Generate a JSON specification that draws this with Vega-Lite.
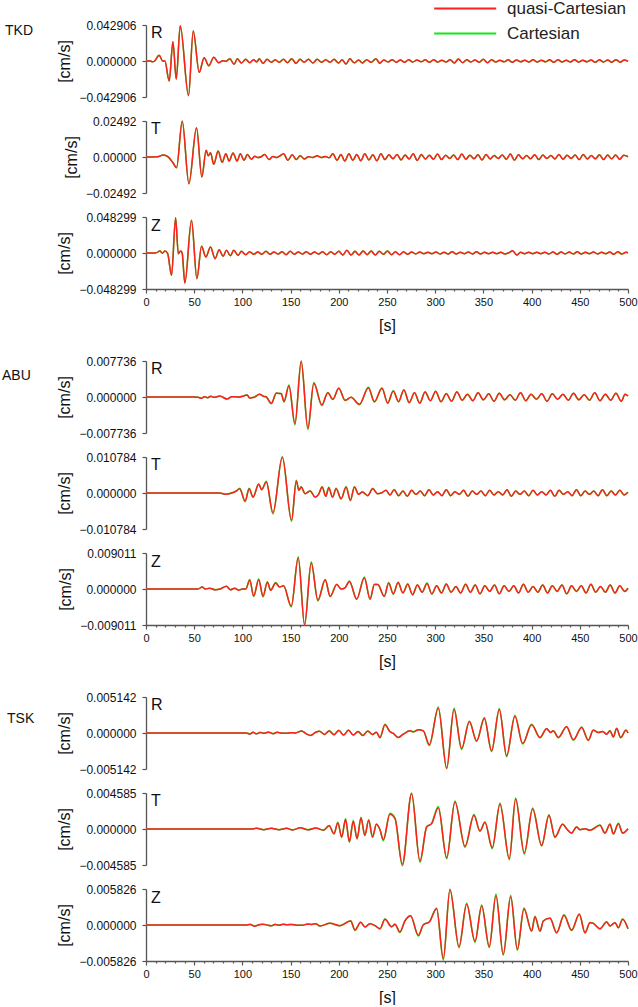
{
"$schema":"https://vega.github.io/schema/vega-lite/v6.json",
"background":"white",
"padding":{"left":2,"top":-3,"right":0,"bottom":0},
"spacing":22,
"config":{
 "view":{"stroke":null},
 "font":"Liberation Sans",
 "axis":{"domainColor":"#555","domainWidth":1.3,"tickColor":"#555","tickWidth":1.2,"labelColor":"#111","titleColor":"#111","labelFont":"Liberation Sans","titleFont":"Liberation Sans","titleFontWeight":"normal","grid":false},
 "axisY":{"tickSize":4,"labelPadding":6,"labelFontSize":12,"titleFontSize":16,"titlePadding":6,"labelOverlap":false},
 "axisX":{"labelFontSize":11,"labelPadding":3,"titleFontSize":16,"titlePadding":10,"labelOverlap":false,"labelFlush":false},
 "legend":{"orient":"none","legendX":287,"legendY":-28,"symbolType":"M-1,0H5","symbolSize":428,"symbolStrokeWidth":2.2,"labelFontSize":17,"labelFont":"Liberation Sans","labelColor":"#222","labelOffset":51,"rowPadding":5,"padding":0},
 "text":{"font":"Liberation Sans","color":"#111"}
},
"datasets":{
"tkdR":[{"t":0,"q":0},{"t":5,"q":0},{"t":6.5,"q":-0.001},{"t":9,"q":0},{"t":13.6,"q":0.0068},{"t":17.5,"q":-0.0004},{"t":19.5,"q":0.0004},{"t":24.1,"q":-0.0238},{"t":27.9,"q":0.023},{"t":31.4,"q":-0.0215},{"t":35.5,"q":0.0421},{"t":44.1,"q":-0.0413},{"t":49,"q":0.0357},{"t":55.2,"q":-0.0135},{"t":60.3,"q":0.004},{"t":65.2,"q":-0.0056},{"t":70.3,"q":0.0044},{"t":75.2,"q":-0.002},{"t":79.5,"q":0.0002},{"t":83,"q":-0.0004},{"t":86.9,"q":0.0028},{"t":91.4,"q":-0.004},{"t":94.8,"q":0.0028},{"t":99,"q":-0.0024},{"t":103.4,"q":0.002},{"t":107.6,"q":-0.002},{"t":111.5,"q":0.0014},{"t":115,"q":-0.001},{"t":117.5,"q":0.0026},{"t":121.4,"q":-0.0028},{"t":125.6,"q":0.002},{"t":130,"q":-0.0016},{"t":134,"q":0.0016},{"t":138.3,"q":-0.0016},{"t":142.6,"q":0.002},{"t":146.8,"q":-0.002},{"t":151.2,"q":0.0028},{"t":155.6,"q":-0.0028},{"t":159.8,"q":0.002},{"t":164,"q":-0.0016},{"t":168.6,"q":0.002},{"t":173,"q":-0.0024},{"t":177.6,"q":0.002},{"t":182,"q":-0.0016},{"t":186.4,"q":0.0016},{"t":191,"q":-0.0016},{"t":195.2,"q":0.002},{"t":199.7,"q":-0.0024},{"t":203.5,"q":0.0016},{"t":207.5,"q":-0.0036},{"t":211.5,"q":0.0026},{"t":216,"q":-0.0022},{"t":220.5,"q":0.0012},{"t":224.6,"q":-0.0024},{"t":229,"q":0.0016},{"t":233.5,"q":-0.0016},{"t":238.5,"q":0.0026},{"t":242.5,"q":-0.0026},{"t":246.8,"q":0.0012},{"t":251,"q":-0.0012},{"t":255.3,"q":0.0014},{"t":259.6,"q":-0.0014},{"t":263.9,"q":0.0012},{"t":268.2,"q":-0.0016},{"t":272.5,"q":0.0016},{"t":276.8,"q":-0.0012},{"t":281.1,"q":0.0012},{"t":285.4,"q":-0.001},{"t":289.7,"q":0.0014},{"t":294,"q":-0.0016},{"t":298.3,"q":0.0016},{"t":302.6,"q":-0.0014},{"t":306.9,"q":0.001},{"t":311.2,"q":-0.0012},{"t":315.5,"q":0.0016},{"t":319.8,"q":-0.0024},{"t":324.1,"q":0.0024},{"t":328.4,"q":-0.002},{"t":332.7,"q":0.0016},{"t":337,"q":-0.0012},{"t":341.3,"q":0.0012},{"t":345.6,"q":-0.0016},{"t":349.9,"q":0.002},{"t":354.2,"q":-0.002},{"t":358.5,"q":0.0016},{"t":362.8,"q":-0.0012},{"t":367.1,"q":0.001},{"t":371.4,"q":-0.001},{"t":375.7,"q":0.0014},{"t":380,"q":-0.0016},{"t":384.3,"q":0.0012},{"t":388.6,"q":-0.001},{"t":392.9,"q":0.001},{"t":397.2,"q":-0.0012},{"t":401.5,"q":0.0014},{"t":405.8,"q":-0.0012},{"t":410.1,"q":0.001},{"t":414.4,"q":-0.001},{"t":418.7,"q":0.0014},{"t":423,"q":-0.0016},{"t":427.3,"q":0.0016},{"t":431.6,"q":-0.0012},{"t":435.9,"q":0.001},{"t":440.2,"q":-0.0012},{"t":444.5,"q":0.0016},{"t":448.8,"q":-0.0014},{"t":453.1,"q":0.001},{"t":457.4,"q":-0.001},{"t":461.7,"q":0.0012},{"t":466,"q":-0.0016},{"t":470.3,"q":0.0016},{"t":474.6,"q":-0.0012},{"t":478.9,"q":0.0012},{"t":483.2,"q":-0.0014},{"t":487.5,"q":0.0016},{"t":491.8,"q":-0.0014},{"t":496.1,"q":0.0012},{"t":500,"q":-0.0004}],
"tkdT":[{"t":0,"q":0},{"t":12,"q":0.0002},{"t":17.9,"q":0.0014},{"t":23,"q":0.0001},{"t":28,"q":-0.004},{"t":31.7,"q":-0.0074},{"t":37.6,"q":0.0248},{"t":44.5,"q":-0.0185},{"t":52.4,"q":0.0203},{"t":57.9,"q":-0.0138},{"t":62.4,"q":0.0046},{"t":64.6,"q":0.0008},{"t":66.9,"q":0.003},{"t":70.3,"q":-0.0051},{"t":74.8,"q":0.0042},{"t":79,"q":-0.0037},{"t":82.8,"q":0.0023},{"t":86.2,"q":-0.0028},{"t":90.3,"q":0.0028},{"t":94.5,"q":-0.0028},{"t":97.9,"q":0.0023},{"t":101.7,"q":-0.0023},{"t":105.2,"q":0.0018},{"t":109.3,"q":-0.0016},{"t":112.7,"q":0.0005},{"t":116,"q":-0.0004},{"t":119.5,"q":0.0002},{"t":123.1,"q":0.0018},{"t":127.6,"q":-0.0018},{"t":131.5,"q":0.0004},{"t":135.5,"q":-0.0004},{"t":138.5,"q":0.0006},{"t":142.7,"q":0.0023},{"t":147.2,"q":-0.0023},{"t":151.7,"q":0.0016},{"t":155.8,"q":-0.0018},{"t":160,"q":0.0009},{"t":164.3,"q":-0.0014},{"t":168.5,"q":0.0002},{"t":173,"q":-0.0004},{"t":177.5,"q":0.0009},{"t":181.8,"q":-0.0004},{"t":186,"q":0.0004},{"t":190,"q":-0.0006},{"t":193.8,"q":0.0023},{"t":198.2,"q":-0.0023},{"t":202.2,"q":0.0018},{"t":206.3,"q":-0.0028},{"t":210.5,"q":0.0023},{"t":214.6,"q":-0.0023},{"t":218.6,"q":0.0018},{"t":222.8,"q":-0.0026},{"t":227,"q":0.0023},{"t":231.2,"q":-0.002},{"t":235.3,"q":0.0016},{"t":239.5,"q":-0.0026},{"t":243.7,"q":0.0023},{"t":247.8,"q":-0.0018},{"t":252,"q":0.0016},{"t":256.2,"q":-0.0012},{"t":260.4,"q":0.0018},{"t":264.6,"q":-0.002},{"t":268.8,"q":0.0014},{"t":273,"q":-0.0014},{"t":277.2,"q":0.0022},{"t":281.4,"q":-0.0024},{"t":285.6,"q":0.0018},{"t":289.8,"q":-0.0014},{"t":294,"q":0.0012},{"t":298.2,"q":-0.0016},{"t":302.4,"q":0.002},{"t":306.6,"q":-0.0018},{"t":310.8,"q":0.0012},{"t":315,"q":-0.001},{"t":319.2,"q":0.0014},{"t":323.4,"q":-0.0018},{"t":327.6,"q":0.002},{"t":331.8,"q":-0.0016},{"t":336,"q":0.0012},{"t":340.2,"q":-0.0012},{"t":344.4,"q":0.0016},{"t":348.6,"q":-0.002},{"t":352.8,"q":0.0018},{"t":357,"q":-0.0014},{"t":361.2,"q":0.001},{"t":365.4,"q":-0.001},{"t":369.6,"q":0.0014},{"t":373.8,"q":-0.0016},{"t":378,"q":0.002},{"t":382.2,"q":-0.0022},{"t":386.4,"q":0.0016},{"t":390.6,"q":-0.0012},{"t":394.8,"q":0.001},{"t":399,"q":-0.0012},{"t":403.2,"q":0.0016},{"t":407.4,"q":-0.0018},{"t":411.6,"q":0.0014},{"t":415.8,"q":-0.001},{"t":420,"q":0.001},{"t":424.2,"q":-0.0014},{"t":428.4,"q":0.0018},{"t":432.6,"q":-0.0016},{"t":436.8,"q":0.0012},{"t":441,"q":-0.001},{"t":445.2,"q":0.0014},{"t":449.4,"q":-0.0018},{"t":453.6,"q":0.0018},{"t":457.8,"q":-0.0014},{"t":462,"q":0.001},{"t":466.2,"q":-0.0012},{"t":470.4,"q":0.0016},{"t":474.6,"q":-0.0018},{"t":478.8,"q":0.0014},{"t":483,"q":-0.0012},{"t":487.2,"q":0.0014},{"t":491.4,"q":-0.0016},{"t":495.6,"q":0.0012},{"t":500,"q":0.0002}],
"tkdZ":[{"t":0,"q":0},{"t":10,"q":0},{"t":14.5,"q":0.0027},{"t":17,"q":-0.0004},{"t":19.7,"q":0.0027},{"t":22.5,"q":-0.0009},{"t":26.5,"q":-0.03},{"t":30.7,"q":0.0474},{"t":33.5,"q":-0.0009},{"t":35.9,"q":0.0027},{"t":37.5,"q":0},{"t":40.3,"q":-0.0402},{"t":47.2,"q":0.0438},{"t":52.8,"q":-0.0344},{"t":57.6,"q":0.0089},{"t":62.1,"q":-0.0054},{"t":66.9,"q":0.008},{"t":71.7,"q":-0.0076},{"t":75.9,"q":0.0045},{"t":80,"q":-0.0045},{"t":83.4,"q":0.0036},{"t":87.6,"q":-0.0036},{"t":91,"q":0.0036},{"t":95.5,"q":-0.003},{"t":99,"q":0.0022},{"t":103.4,"q":-0.0022},{"t":107.5,"q":0.0018},{"t":111.8,"q":-0.0018},{"t":116,"q":0.0014},{"t":120.2,"q":-0.0018},{"t":124.4,"q":0.0022},{"t":128.6,"q":-0.0018},{"t":132.8,"q":0.0014},{"t":137,"q":-0.0014},{"t":141.2,"q":0.0018},{"t":145.4,"q":-0.0022},{"t":149.6,"q":0.0022},{"t":153.8,"q":-0.0018},{"t":158,"q":0.0014},{"t":162.2,"q":-0.0014},{"t":166.4,"q":0.0018},{"t":170.6,"q":-0.0018},{"t":174.8,"q":0.0014},{"t":179,"q":-0.0014},{"t":183.2,"q":0.0018},{"t":187.4,"q":-0.0022},{"t":191.6,"q":0.0018},{"t":195.8,"q":-0.0018},{"t":200,"q":0.0022},{"t":204.2,"q":-0.0027},{"t":208.4,"q":0.0036},{"t":212.6,"q":-0.0027},{"t":216.8,"q":0.0022},{"t":221,"q":-0.0027},{"t":225.2,"q":0.0027},{"t":229.4,"q":-0.0022},{"t":233.6,"q":0.0027},{"t":237.8,"q":-0.0027},{"t":242,"q":0.0022},{"t":246.2,"q":-0.0018},{"t":250.4,"q":0.0027},{"t":254.6,"q":-0.0022},{"t":258.8,"q":0.0018},{"t":263,"q":-0.0022},{"t":267.2,"q":0.0018},{"t":271.4,"q":-0.0018},{"t":275.6,"q":0.0013},{"t":279.8,"q":-0.0013},{"t":284,"q":0.0013},{"t":288.2,"q":-0.0009},{"t":292.4,"q":0.0009},{"t":296.6,"q":-0.0009},{"t":300.8,"q":0.0013},{"t":305,"q":-0.0013},{"t":309.2,"q":0.0009},{"t":313.4,"q":-0.0013},{"t":317.6,"q":0.0018},{"t":321.8,"q":-0.0013},{"t":326,"q":0.0009},{"t":330.2,"q":-0.0009},{"t":334.4,"q":0.0013},{"t":338.6,"q":-0.0013},{"t":342.8,"q":0.0018},{"t":347,"q":-0.0013},{"t":351.2,"q":0.0009},{"t":355.4,"q":-0.0009},{"t":359.6,"q":0.0009},{"t":363.8,"q":-0.0009},{"t":368,"q":0.0009},{"t":372.2,"q":-0.0013},{"t":376.4,"q":0.0004},{"t":380.4,"q":0.0031},{"t":384.5,"q":-0.0027},{"t":388.6,"q":0.0009},{"t":392.8,"q":-0.0009},{"t":397,"q":0.0009},{"t":401.2,"q":-0.0009},{"t":405.4,"q":0.0009},{"t":409.6,"q":-0.0009},{"t":413.8,"q":0.0009},{"t":418,"q":-0.0013},{"t":422.2,"q":0.0013},{"t":426.4,"q":-0.0018},{"t":430.6,"q":0.0013},{"t":434.8,"q":-0.0013},{"t":439,"q":0.0013},{"t":443.2,"q":-0.0013},{"t":447.4,"q":0.0018},{"t":451.6,"q":-0.0013},{"t":455.8,"q":0.0009},{"t":460,"q":-0.0009},{"t":464.2,"q":0.0013},{"t":468.4,"q":-0.0013},{"t":472.6,"q":0.0009},{"t":476.8,"q":-0.0009},{"t":481,"q":0.0013},{"t":485.2,"q":-0.0018},{"t":489.4,"q":0.0018},{"t":493.6,"q":-0.0013},{"t":497.8,"q":0.0009},{"t":500,"q":0.0004}],
"abuR":[{"t":0,"q":0,"k":0},{"t":50,"q":0,"k":0},{"t":54,"q":-0.00005,"k":-0.00005},{"t":57.6,"q":-0.00029,"k":-0.00029},{"t":60.5,"q":0.00007,"k":0.00007},{"t":63.9,"q":-0.00014,"k":-0.00014},{"t":67.3,"q":0.00014,"k":0.00014},{"t":70.7,"q":-0.00007,"k":-0.00007},{"t":76.5,"q":0.00021,"k":0.00021},{"t":84.1,"q":-0.00043,"k":-0.00043},{"t":89,"q":0.00007,"k":0.00007},{"t":96,"q":0,"k":0},{"t":100,"q":0.00014,"k":0.00014},{"t":104.8,"q":0.00043,"k":0.00046},{"t":107.6,"q":-0.00021,"k":-0.00023},{"t":112,"q":-0.00007,"k":-0.00007},{"t":117.9,"q":0.00057,"k":0.0006},{"t":122,"q":0.00014,"k":0.00014},{"t":124.8,"q":0,"k":0},{"t":130,"q":-0.00136,"k":-0.00146},{"t":135.2,"q":0.00079,"k":0.00084},{"t":140.3,"q":0.00072,"k":0.00076},{"t":143.1,"q":-0.001,"k":-0.00106},{"t":148.3,"q":0.00243,"k":0.00256},{"t":154.5,"q":-0.00573,"k":-0.006},{"t":161,"q":0.0077,"k":0.00773},{"t":167.9,"q":-0.00673,"k":-0.007},{"t":174.1,"q":0.00293,"k":0.0031},{"t":182.4,"q":-0.00172,"k":-0.00182},{"t":188.6,"q":0.00093,"k":0.00098},{"t":193.8,"q":-0.0005,"k":-0.00052},{"t":200,"q":0.00186,"k":0.00196},{"t":206.5,"q":-0.00072,"k":-0.00076},{"t":212.7,"q":-0.00007,"k":-0.00007},{"t":221.4,"q":-0.00158,"k":-0.00166},{"t":230.7,"q":0.002,"k":0.0021},{"t":236.9,"q":-0.001,"k":-0.00105},{"t":244.8,"q":0.00186,"k":0.00196},{"t":250.7,"q":-0.00129,"k":-0.00136},{"t":256.5,"q":0.0013,"k":0.00136},{"t":262,"q":-0.001,"k":-0.00104},{"t":267.5,"q":0.0015,"k":0.00157},{"t":273,"q":-0.0012,"k":-0.00125},{"t":278.5,"q":0.0009,"k":0.00094},{"t":284,"q":-0.0013,"k":-0.00136},{"t":289.5,"q":0.0011,"k":0.00115},{"t":295,"q":-0.0008,"k":-0.00083},{"t":300.5,"q":0.0012,"k":0.00125},{"t":306,"q":-0.001,"k":-0.00104},{"t":311.5,"q":0.0007,"k":0.00073},{"t":317,"q":-0.0009,"k":-0.00094},{"t":322.5,"q":0.0011,"k":0.00115},{"t":328,"q":-0.0007,"k":-0.00073},{"t":333.5,"q":0.0006,"k":0.0006},{"t":339,"q":-0.0008,"k":-0.0008},{"t":344.5,"q":0.0009,"k":0.0009},{"t":350,"q":-0.0006,"k":-0.0006},{"t":355.5,"q":0.0007,"k":0.0007},{"t":361,"q":-0.0009,"k":-0.0009},{"t":366.5,"q":0.0008,"k":0.0008},{"t":372,"q":-0.0006,"k":-0.0006},{"t":377.5,"q":0.0005,"k":0.0005},{"t":383,"q":-0.0007,"k":-0.0007},{"t":388.5,"q":0.0009,"k":0.0009},{"t":394,"q":-0.0008,"k":-0.0008},{"t":399.5,"q":0.0006,"k":0.0006},{"t":405,"q":-0.0005,"k":-0.0005},{"t":410.5,"q":0.0007,"k":0.0007},{"t":416,"q":-0.0009,"k":-0.0009},{"t":421.5,"q":0.0007,"k":0.0007},{"t":427,"q":-0.0005,"k":-0.0005},{"t":432.5,"q":0.0006,"k":0.0006},{"t":438,"q":-0.0007,"k":-0.0007},{"t":443.5,"q":0.0008,"k":0.0008},{"t":449,"q":-0.0006,"k":-0.0006},{"t":454.5,"q":0.0005,"k":0.0005},{"t":460,"q":-0.0007,"k":-0.0007},{"t":465.5,"q":0.0009,"k":0.0009},{"t":471,"q":-0.0008,"k":-0.0008},{"t":476.5,"q":0.0006,"k":0.0006},{"t":482,"q":-0.0007,"k":-0.0007},{"t":487.5,"q":0.0008,"k":0.0008},{"t":493,"q":-0.0009,"k":-0.0009},{"t":497,"q":0.0006,"k":0.0006},{"t":500,"q":0.0002,"k":0.0002}],
"abuT":[{"t":0,"q":0,"k":0},{"t":76,"q":0,"k":0},{"t":80,"q":-0.0002,"k":-0.0002},{"t":82.8,"q":-0.0004,"k":-0.0004},{"t":88,"q":-0.0001,"k":-0.0001},{"t":93.8,"q":0.0006,"k":0.0006},{"t":97.2,"q":0.0013,"k":0.0014},{"t":102.8,"q":-0.0024,"k":-0.0026},{"t":107,"q":0.0013,"k":0.0014},{"t":111,"q":-0.0012,"k":-0.0013},{"t":116.9,"q":0.0026,"k":0.0028},{"t":120,"q":0.001,"k":0.001},{"t":124.8,"q":0.0033,"k":0.0035},{"t":131.7,"q":-0.0059,"k":-0.0063},{"t":141.4,"q":0.01075,"k":0.01078},{"t":151,"q":-0.0082,"k":-0.0085},{"t":155.9,"q":0.0036,"k":0.0038},{"t":158.6,"q":0.0008,"k":0.0008},{"t":161,"q":0.0018,"k":0.0019},{"t":165,"q":-0.0002,"k":-0.0002},{"t":170.3,"q":0.0006,"k":0.0006},{"t":175.5,"q":-0.0012,"k":-0.0013},{"t":179,"q":-0.0004,"k":-0.0004},{"t":182.7,"q":0.0018,"k":0.0019},{"t":186.5,"q":-0.001,"k":-0.001},{"t":189.6,"q":0.0016,"k":0.0017},{"t":193.5,"q":-0.0012,"k":-0.0013},{"t":197.2,"q":0.0013,"k":0.0014},{"t":202.4,"q":-0.0017,"k":-0.0018},{"t":207.6,"q":0.0018,"k":0.0019},{"t":212,"q":-0.0022,"k":-0.0023},{"t":216.2,"q":0.0018,"k":0.0019},{"t":220.5,"q":-0.0004,"k":-0.0004},{"t":224.5,"q":0.0003,"k":0.0003},{"t":230,"q":-0.0008,"k":-0.0008},{"t":235.2,"q":0.0013,"k":0.0014},{"t":240,"q":-0.0002,"k":-0.0002},{"t":244,"q":0,"k":0},{"t":249,"q":0.0008,"k":0.0008},{"t":253,"q":-0.0006,"k":-0.0006},{"t":257.5,"q":0.001,"k":0.001},{"t":262,"q":-0.0008,"k":-0.0008},{"t":266.5,"q":0.0006,"k":0.0006},{"t":271,"q":-0.001,"k":-0.001},{"t":275.5,"q":0.0008,"k":0.0008},{"t":280,"q":-0.0004,"k":-0.0004},{"t":284.5,"q":0.0006,"k":0.0006},{"t":289,"q":-0.0008,"k":-0.0008},{"t":293.5,"q":0.001,"k":0.001},{"t":298,"q":-0.0006,"k":-0.0006},{"t":302.5,"q":0.0004,"k":0.0004},{"t":307,"q":-0.0008,"k":-0.0008},{"t":311.5,"q":0.001,"k":0.001},{"t":316,"q":-0.0008,"k":-0.0008},{"t":320.5,"q":0.0004,"k":0.0004},{"t":325,"q":-0.0004,"k":-0.0004},{"t":329.5,"q":0.0008,"k":0.0008},{"t":334,"q":-0.001,"k":-0.001},{"t":338.5,"q":0.0006,"k":0.0006},{"t":343,"q":-0.0004,"k":-0.0004},{"t":347.5,"q":0.0006,"k":0.0006},{"t":352,"q":-0.0008,"k":-0.0008},{"t":356.5,"q":0.0008,"k":0.0008},{"t":361,"q":-0.0006,"k":-0.0006},{"t":365.5,"q":0.0004,"k":0.0004},{"t":370,"q":-0.0006,"k":-0.0006},{"t":374.5,"q":0.001,"k":0.001},{"t":379,"q":-0.001,"k":-0.001},{"t":383.5,"q":0.0006,"k":0.0006},{"t":388,"q":-0.0004,"k":-0.0004},{"t":392.5,"q":0.0006,"k":0.0006},{"t":397,"q":-0.0008,"k":-0.0008},{"t":401.5,"q":0.0008,"k":0.0008},{"t":406,"q":-0.0006,"k":-0.0006},{"t":410.5,"q":0.0004,"k":0.0004},{"t":415,"q":-0.0006,"k":-0.0006},{"t":419.5,"q":0.0008,"k":0.0008},{"t":424,"q":-0.001,"k":-0.001},{"t":428.5,"q":0.0008,"k":0.0008},{"t":433,"q":-0.0004,"k":-0.0004},{"t":437.5,"q":0.0004,"k":0.0004},{"t":442,"q":-0.0008,"k":-0.0008},{"t":446.5,"q":0.001,"k":0.001},{"t":451,"q":-0.0008,"k":-0.0008},{"t":455.5,"q":0.0006,"k":0.0006},{"t":460,"q":-0.0004,"k":-0.0004},{"t":464.5,"q":0.0006,"k":0.0006},{"t":469,"q":-0.0008,"k":-0.0008},{"t":473.5,"q":0.001,"k":0.001},{"t":478,"q":-0.0008,"k":-0.0008},{"t":482.5,"q":0.0006,"k":0.0006},{"t":487,"q":-0.0006,"k":-0.0006},{"t":491.5,"q":0.0008,"k":0.0008},{"t":496,"q":-0.0006,"k":-0.0006},{"t":500,"q":0.0002,"k":0.0002}],
"abuZ":[{"t":0,"q":0,"k":0},{"t":54,"q":0,"k":0},{"t":58.3,"q":0.0005,"k":0.0005},{"t":61.5,"q":0,"k":0},{"t":66,"q":0.0002,"k":0.0002},{"t":72,"q":-0.0002,"k":-0.0002},{"t":77,"q":0,"k":0},{"t":83.4,"q":0.0007,"k":0.0007},{"t":87.5,"q":-0.0002,"k":-0.0002},{"t":92,"q":0.0002,"k":0.0002},{"t":96,"q":-0.0003,"k":-0.0003},{"t":100,"q":0,"k":0},{"t":103.5,"q":0,"k":0},{"t":107.6,"q":0.0022,"k":0.0024},{"t":111.7,"q":-0.0017,"k":-0.0019},{"t":116.9,"q":0.0023,"k":0.0025},{"t":121.4,"q":-0.0018,"k":-0.002},{"t":125.9,"q":0.0017,"k":0.0018},{"t":129.3,"q":-0.0003,"k":-0.0003},{"t":134.5,"q":0.0015,"k":0.0016},{"t":138.6,"q":0.0005,"k":0.0005},{"t":142.7,"q":0.0008,"k":0.0008},{"t":150.7,"q":-0.0043,"k":-0.0045},{"t":157.9,"q":0.0078,"k":0.0081},{"t":164.5,"q":-0.00895,"k":-0.009},{"t":171.4,"q":0.0065,"k":0.0068},{"t":178.3,"q":-0.0028,"k":-0.003},{"t":185.9,"q":0.0023,"k":0.0024},{"t":191,"q":-0.0018,"k":-0.0019},{"t":197.9,"q":0.0011,"k":0.0012},{"t":202.5,"q":0,"k":0},{"t":206.5,"q":0.0003,"k":0.0003},{"t":211,"q":0.0019,"k":0.002},{"t":218.6,"q":-0.0025,"k":-0.0026},{"t":226.5,"q":0.0028,"k":0.003},{"t":232.4,"q":-0.0025,"k":-0.0026},{"t":236.9,"q":0.0011,"k":0.0012},{"t":240.5,"q":0.0011,"k":0.0011},{"t":247.2,"q":-0.0018,"k":-0.0019},{"t":251.7,"q":0.0015,"k":0.0016},{"t":256.5,"q":-0.0012,"k":-0.0013},{"t":261.5,"q":0.0016,"k":0.0017},{"t":266.5,"q":-0.001,"k":-0.001},{"t":271.5,"q":0.0012,"k":0.0013},{"t":276.5,"q":-0.0014,"k":-0.0015},{"t":281.5,"q":0.001,"k":0.001},{"t":286.5,"q":-0.0008,"k":-0.0008},{"t":291.5,"q":0.0014,"k":0.0015},{"t":296.5,"q":-0.0012,"k":-0.0013},{"t":301.5,"q":0.0008,"k":0.0008},{"t":306.5,"q":-0.001,"k":-0.001},{"t":311.5,"q":0.0012,"k":0.0013},{"t":316.5,"q":-0.0008,"k":-0.0008},{"t":321.5,"q":0.0006,"k":0.0006},{"t":326.5,"q":-0.001,"k":-0.001},{"t":331.5,"q":0.0012,"k":0.0012},{"t":336.5,"q":-0.0008,"k":-0.0008},{"t":341.5,"q":0.001,"k":0.001},{"t":346.5,"q":-0.0012,"k":-0.0012},{"t":351.5,"q":0.0008,"k":0.0008},{"t":356.5,"q":-0.0006,"k":-0.0006},{"t":361.5,"q":0.001,"k":0.001},{"t":366.5,"q":-0.0012,"k":-0.0012},{"t":371.5,"q":0.0008,"k":0.0008},{"t":376.5,"q":-0.0006,"k":-0.0006},{"t":381.5,"q":0.0008,"k":0.0008},{"t":386.5,"q":-0.001,"k":-0.001},{"t":391.5,"q":0.0012,"k":0.0012},{"t":396.5,"q":-0.0008,"k":-0.0008},{"t":401.5,"q":0.0006,"k":0.0006},{"t":406.5,"q":-0.0008,"k":-0.0008},{"t":411.5,"q":0.001,"k":0.001},{"t":416.5,"q":-0.001,"k":-0.001},{"t":421.5,"q":0.0008,"k":0.0008},{"t":426.5,"q":-0.0006,"k":-0.0006},{"t":431.5,"q":0.001,"k":0.001},{"t":436.5,"q":-0.0012,"k":-0.0012},{"t":441.5,"q":0.0008,"k":0.0008},{"t":446.5,"q":-0.0006,"k":-0.0006},{"t":451.5,"q":0.0008,"k":0.0008},{"t":456.5,"q":-0.001,"k":-0.001},{"t":461.5,"q":0.0012,"k":0.0012},{"t":466.5,"q":-0.0008,"k":-0.0008},{"t":471.5,"q":0.0006,"k":0.0006},{"t":476.5,"q":-0.0008,"k":-0.0008},{"t":481.5,"q":0.001,"k":0.001},{"t":486.5,"q":-0.001,"k":-0.001},{"t":491.5,"q":0.0008,"k":0.0008},{"t":496.5,"q":-0.0006,"k":-0.0006},{"t":500,"q":0.0002,"k":0.0002}],
"tskR":[{"t":0,"q":0,"k":0},{"t":104,"q":0,"k":0},{"t":108,"q":-0.00015,"k":-0.00015},{"t":111,"q":0.0001,"k":0.00012},{"t":114.5,"q":-0.00012,"k":-0.00012},{"t":118.5,"q":0.00008,"k":0.0001},{"t":122,"q":-0.00005,"k":-0.00005},{"t":127,"q":0.00012,"k":0.00014},{"t":132,"q":-0.0001,"k":-0.0001},{"t":136,"q":0.0001,"k":0.00012},{"t":140,"q":0,"k":0},{"t":145,"q":-0.00005,"k":-0.00005},{"t":150,"q":0.00005,"k":0.00005},{"t":155,"q":0,"k":0},{"t":161.5,"q":0.0003,"k":0.0003},{"t":166,"q":-0.0001,"k":-0.0001},{"t":170.8,"q":-0.00035,"k":-0.00035},{"t":176,"q":0.0001,"k":0.0001},{"t":180,"q":0.00025,"k":0.00025},{"t":185,"q":-0.0002,"k":-0.0002},{"t":190,"q":0.0003,"k":0.00033},{"t":195,"q":-0.00025,"k":-0.00025},{"t":200,"q":0.00035,"k":0.00038},{"t":205,"q":-0.0003,"k":-0.0003},{"t":210,"q":0.0004,"k":0.00043},{"t":215,"q":-0.0003,"k":-0.0003},{"t":220,"q":0.0002,"k":0.0002},{"t":225,"q":-0.00035,"k":-0.00037},{"t":230,"q":0.0003,"k":0.0003},{"t":235,"q":-0.0002,"k":-0.0002},{"t":239,"q":0.0001,"k":0.0001},{"t":242.7,"q":-0.00064,"k":-0.00068},{"t":247.9,"q":0.00117,"k":0.00126},{"t":253,"q":0.00021,"k":0.00021},{"t":256.5,"q":-0.00007,"k":-0.00007},{"t":261.7,"q":-0.00064,"k":-0.00066},{"t":266.9,"q":-0.00017,"k":-0.00017},{"t":273.8,"q":0.00031,"k":0.00033},{"t":277.3,"q":0.00017,"k":0.00017},{"t":282.5,"q":0.00045,"k":0.00048},{"t":287.7,"q":0.00031,"k":0.00031},{"t":293.9,"q":-0.00169,"k":-0.0018},{"t":303.2,"q":0.00355,"k":0.0037},{"t":311.9,"q":-0.00502,"k":-0.00512},{"t":319.5,"q":0.00341,"k":0.00355},{"t":327.4,"q":-0.00221,"k":-0.00235},{"t":335.4,"q":0.0016,"k":0.0017},{"t":343,"q":-0.00112,"k":-0.0012},{"t":351,"q":0.00207,"k":0.0022},{"t":358.5,"q":-0.00255,"k":-0.00266},{"t":366.5,"q":0.00336,"k":0.0035},{"t":374.1,"q":-0.00326,"k":-0.0034},{"t":382.7,"q":0.00241,"k":0.00252},{"t":390.7,"q":-0.0015,"k":-0.00158},{"t":400,"q":0.00117,"k":0.00124},{"t":408.7,"q":-0.00064,"k":-0.00068},{"t":415.6,"q":0.0006,"k":0.00064},{"t":419.7,"q":0.00007,"k":0.00007},{"t":422.5,"q":0.00031,"k":0.00033},{"t":427.7,"q":-0.00064,"k":-0.00068},{"t":436.3,"q":0.00088,"k":0.00094},{"t":443.3,"q":-0.00098,"k":-0.00104},{"t":451.9,"q":0.00079,"k":0.00084},{"t":458.8,"q":-0.00102,"k":-0.00106},{"t":464,"q":0.0004,"k":0.00042},{"t":469.2,"q":0.00007,"k":0.00007},{"t":473.8,"q":0.00021,"k":0.00022},{"t":477.8,"q":-0.00017,"k":-0.00017},{"t":481.3,"q":0.00031,"k":0.00033},{"t":484.8,"q":-0.00055,"k":-0.00058},{"t":488.2,"q":0.00064,"k":0.00068},{"t":492.4,"q":-0.00064,"k":-0.00068},{"t":497.9,"q":0.0004,"k":0.00042},{"t":500,"q":0,"k":0}],
"tskT":[{"t":0,"q":0,"k":0},{"t":108,"q":0,"k":0},{"t":115,"q":0.00008,"k":0.00008},{"t":122,"q":-0.00008,"k":-0.00008},{"t":130,"q":0.0001,"k":0.0001},{"t":138,"q":-0.0001,"k":-0.0001},{"t":146,"q":0.00008,"k":0.00008},{"t":152,"q":-0.00012,"k":-0.00012},{"t":160,"q":0.00015,"k":0.00015},{"t":168,"q":-0.0001,"k":-0.0001},{"t":176,"q":0.00012,"k":0.00012},{"t":184,"q":-0.00015,"k":-0.00015},{"t":190,"q":0.0004,"k":0.00043},{"t":195,"q":-0.0006,"k":-0.00064},{"t":199,"q":0.0008,"k":0.00086},{"t":203,"q":-0.001,"k":-0.00108},{"t":207,"q":0.0012,"k":0.0013},{"t":211,"q":-0.0016,"k":-0.0017},{"t":215,"q":0.001,"k":0.00108},{"t":219,"q":-0.0012,"k":-0.0013},{"t":223,"q":0.0014,"k":0.0015},{"t":227,"q":-0.0008,"k":-0.00086},{"t":231,"q":0.0011,"k":0.00118},{"t":235,"q":-0.001,"k":-0.00108},{"t":239,"q":0.0006,"k":0.00064},{"t":242.7,"q":-0.00009,"k":-0.0001},{"t":246.2,"q":-0.00136,"k":-0.0015},{"t":253,"q":0.00187,"k":0.002},{"t":258.3,"q":0.00131,"k":0.0014},{"t":265.9,"q":-0.0045,"k":-0.0047},{"t":275.5,"q":0.0045,"k":0.00458},{"t":284.2,"q":-0.00408,"k":-0.00425},{"t":291.1,"q":0.00026,"k":0.00026},{"t":296.3,"q":0.00068,"k":0.00072},{"t":303.2,"q":0.00272,"k":0.00285},{"t":311.9,"q":-0.00365,"k":-0.0038},{"t":320.5,"q":0.00344,"k":0.00358},{"t":330.9,"q":-0.00221,"k":-0.00232},{"t":340.2,"q":0.00174,"k":0.00184},{"t":346.4,"q":-0.00026,"k":-0.00028},{"t":351.6,"q":0.00085,"k":0.0009},{"t":359.2,"q":-0.00238,"k":-0.0025},{"t":367.2,"q":0.00315,"k":0.0033},{"t":376.9,"q":-0.00378,"k":-0.00392},{"t":383.4,"q":0.00383,"k":0.00395},{"t":392.4,"q":-0.00306,"k":-0.0032},{"t":401.1,"q":0.00255,"k":0.00266},{"t":410.4,"q":-0.00208,"k":-0.00218},{"t":418,"q":0.00174,"k":0.00182},{"t":424.2,"q":-0.00102,"k":-0.00108},{"t":432.2,"q":0.0006,"k":0.00064},{"t":436.3,"q":0.00004,"k":0.00004},{"t":441.5,"q":-0.00051,"k":-0.00054},{"t":446.7,"q":0.00026,"k":0.00028},{"t":450,"q":-0.00008,"k":-0.00008},{"t":455.4,"q":0.00004,"k":0.00004},{"t":460.5,"q":-0.00017,"k":-0.00017},{"t":470.9,"q":0.00047,"k":0.0005},{"t":476.1,"q":-0.00051,"k":-0.00054},{"t":481.3,"q":0.0006,"k":0.00064},{"t":484.8,"q":-0.0006,"k":-0.00064},{"t":490,"q":0.00068,"k":0.00072},{"t":494.4,"q":-0.00051,"k":-0.00054},{"t":500,"q":0.00004,"k":0.00004}],
"tskZ":[{"t":0,"q":0,"k":0},{"t":104,"q":0,"k":0},{"t":108,"q":0.0001,"k":0.00012},{"t":113,"q":-0.0002,"k":-0.00022},{"t":117,"q":0.00005,"k":0.00005},{"t":121,"q":0.00012,"k":0.00014},{"t":125,"q":0.00002,"k":0.00002},{"t":130,"q":-0.00012,"k":-0.00014},{"t":134,"q":0.0001,"k":0.00011},{"t":138,"q":-0.00005,"k":-0.00005},{"t":142,"q":0.00012,"k":0.00013},{"t":147,"q":0.00005,"k":0.00005},{"t":151,"q":0.0001,"k":0.0001},{"t":156,"q":-0.00005,"k":-0.00005},{"t":162,"q":-0.00003,"k":-0.00003},{"t":168,"q":0.00015,"k":0.00015},{"t":172,"q":0.0001,"k":0.0001},{"t":176,"q":0.0002,"k":0.0002},{"t":180.5,"q":-0.00016,"k":-0.00016},{"t":190.9,"q":0.00027,"k":0.00029},{"t":201.2,"q":-0.00011,"k":-0.00011},{"t":212.3,"q":0.00065,"k":0.0007},{"t":216.8,"q":-0.00081,"k":-0.00088},{"t":222.7,"q":0.00043,"k":0.00046},{"t":227.2,"q":-0.00032,"k":-0.00034},{"t":232.4,"q":0.00022,"k":0.00024},{"t":237.6,"q":-0.00011,"k":-0.00011},{"t":242.7,"q":-0.00059,"k":-0.00064},{"t":247.9,"q":0.00092,"k":0.00099},{"t":254.8,"q":-0.00027,"k":-0.00029},{"t":258.3,"q":0.00011,"k":0.00011},{"t":263.4,"q":-0.00113,"k":-0.0012},{"t":268.6,"q":0.00065,"k":0.0007},{"t":274.5,"q":0.00146,"k":0.00155},{"t":282.5,"q":-0.00167,"k":-0.00178},{"t":287.7,"q":0.00005,"k":0.00005},{"t":293.9,"q":0.00049,"k":0.00052},{"t":301.5,"q":0.00264,"k":0.00275},{"t":308.4,"q":-0.00545,"k":-0.0057},{"t":315.3,"q":0.00575,"k":0.0058},{"t":324.7,"q":-0.0035,"k":-0.0037},{"t":332.6,"q":0.00334,"k":0.0035},{"t":341.3,"q":-0.00264,"k":-0.00278},{"t":348.2,"q":0.00307,"k":0.00322},{"t":356.1,"q":-0.0035,"k":-0.00366},{"t":363,"q":0.00479,"k":0.005},{"t":370.6,"q":-0.00474,"k":-0.0049},{"t":378.3,"q":0.00458,"k":0.0048},{"t":385.2,"q":-0.00394,"k":-0.0041},{"t":392.1,"q":0.00264,"k":0.00277},{"t":400,"q":-0.00097,"k":-0.00102},{"t":403.5,"q":0.00135,"k":0.00142},{"t":408.7,"q":-0.00097,"k":-0.00102},{"t":412.2,"q":0.00065,"k":0.00068},{"t":419.1,"q":0.00108,"k":0.00114},{"t":426,"q":-0.00124,"k":-0.0013},{"t":433.6,"q":0.00156,"k":0.00164},{"t":441.5,"q":-0.00086,"k":-0.0009},{"t":449.5,"q":0.00172,"k":0.0018},{"t":455.4,"q":-0.00124,"k":-0.0013},{"t":460.5,"q":0.00038,"k":0.0004},{"t":464,"q":0.00027,"k":0.00028},{"t":470.9,"q":-0.00059,"k":-0.00062},{"t":477.8,"q":0.00049,"k":0.00052},{"t":481.3,"q":-0.00016,"k":-0.00017},{"t":486.5,"q":0.00038,"k":0.0004},{"t":490,"q":-0.00043,"k":-0.00045},{"t":494.4,"q":0.00092,"k":0.00097},{"t":500,"q":-0.00059,"k":-0.00062}]
},
"vconcat":[
{"spacing":12,"vconcat":[
 {"width":482,"height":72,"data":{"name":"tkdR"},
  "encoding":{"x":{"field":"t","type":"quantitative","scale":{"domain":[0,500],"nice":false},"axis":null}},
  "layer":[
   {"mark":{"type":"line","interpolate":"monotone","strokeWidth":1.5},"encoding":{"y":{"field":"q","type":"quantitative","scale":{"domain":[-0.042906,0.042906],"nice":false,"zero":false},"axis":{"values":[-0.042906,0,0.042906],"tickCount":3,"format":".6f","title":"[cm/s]"}},"color":{"datum":"Cartesian","scale":{"domain":["quasi-Cartesian","Cartesian"],"range":["#ff1f1f","#12e812"]},"legend":{"title":null}}}},
   {"mark":{"type":"line","interpolate":"monotone","strokeWidth":1.5},"encoding":{"y":{"field":"q","type":"quantitative","scale":{"domain":[-0.042906,0.042906],"nice":false,"zero":false},"axis":{"values":[-0.042906,0,0.042906],"tickCount":3,"format":".6f","title":"[cm/s]"}},"color":{"datum":"quasi-Cartesian","scale":{"domain":["quasi-Cartesian","Cartesian"],"range":["#ff1f1f","#12e812"]},"legend":{"title":null}}}},
   {"data":{"values":[{"lab":"R","t":0,"q":0.042906}]},"mark":{"type":"text","align":"left","baseline":"top","dx":5,"dy":0,"fontSize":16},"encoding":{"y":{"field":"q","type":"quantitative"},"text":{"field":"lab"}}},
   {"data":{"values":[{"lab":"TKD","t":0,"q":0.042906}]},"mark":{"type":"text","align":"left","baseline":"top","dx":-141,"dy":-1,"fontSize":14},"encoding":{"y":{"field":"q","type":"quantitative"},"text":{"field":"lab"}}}
  ]},
 {"width":482,"height":72,"data":{"name":"tkdT"},
  "encoding":{"x":{"field":"t","type":"quantitative","scale":{"domain":[0,500],"nice":false},"axis":null}},
  "layer":[
   {"mark":{"type":"line","interpolate":"monotone","strokeWidth":1.5},"encoding":{"y":{"field":"q","type":"quantitative","scale":{"domain":[-0.02492,0.02492],"nice":false,"zero":false},"axis":{"values":[-0.02492,0,0.02492],"tickCount":3,"format":".5f","title":"[cm/s]"}},"color":{"datum":"Cartesian","scale":{"domain":["quasi-Cartesian","Cartesian"],"range":["#ff1f1f","#12e812"]},"legend":{"title":null}}}},
   {"mark":{"type":"line","interpolate":"monotone","strokeWidth":1.5},"encoding":{"y":{"field":"q","type":"quantitative","scale":{"domain":[-0.02492,0.02492],"nice":false,"zero":false},"axis":{"values":[-0.02492,0,0.02492],"tickCount":3,"format":".5f","title":"[cm/s]"}},"color":{"datum":"quasi-Cartesian","scale":{"domain":["quasi-Cartesian","Cartesian"],"range":["#ff1f1f","#12e812"]},"legend":{"title":null}}}},
   {"data":{"values":[{"lab":"T","t":0,"q":0.02492}]},"mark":{"type":"text","align":"left","baseline":"top","dx":5,"dy":0,"fontSize":16},"encoding":{"y":{"field":"q","type":"quantitative"},"text":{"field":"lab"}}}
  ]},
 {"width":482,"height":72,"data":{"name":"tkdZ"},
  "encoding":{"x":{"field":"t","type":"quantitative","scale":{"domain":[0,500],"nice":false},"axis":{"values":[0,10,20,30,40,50,60,70,80,90,100,110,120,130,140,150,160,170,180,190,200,210,220,230,240,250,260,270,280,290,300,310,320,330,340,350,360,370,380,390,400,410,420,430,440,450,460,470,480,490,500],"tickCount":60,"format":"d","labelExpr":"datum.value % 50 === 0 ? datum.label : ''","tickSize":{"condition":{"test":"datum.value % 50 === 0","value":4},"value":2},"title":"[s]"}}},
  "layer":[
   {"mark":{"type":"line","interpolate":"monotone","strokeWidth":1.5},"encoding":{"y":{"field":"q","type":"quantitative","scale":{"domain":[-0.048299,0.048299],"nice":false,"zero":false},"axis":{"values":[-0.048299,0,0.048299],"tickCount":3,"format":".6f","title":"[cm/s]"}},"color":{"datum":"Cartesian","scale":{"domain":["quasi-Cartesian","Cartesian"],"range":["#ff1f1f","#12e812"]},"legend":{"title":null}}}},
   {"mark":{"type":"line","interpolate":"monotone","strokeWidth":1.5},"encoding":{"y":{"field":"q","type":"quantitative","scale":{"domain":[-0.048299,0.048299],"nice":false,"zero":false},"axis":{"values":[-0.048299,0,0.048299],"tickCount":3,"format":".6f","title":"[cm/s]"}},"color":{"datum":"quasi-Cartesian","scale":{"domain":["quasi-Cartesian","Cartesian"],"range":["#ff1f1f","#12e812"]},"legend":{"title":null}}}},
   {"data":{"values":[{"lab":"Z","t":0,"q":0.048299}]},"mark":{"type":"text","align":"left","baseline":"top","dx":5,"dy":1,"fontSize":16},"encoding":{"y":{"field":"q","type":"quantitative"},"text":{"field":"lab"}}}
  ]}
]},
{"spacing":12,"vconcat":[
 {"width":482,"height":72,"data":{"name":"abuR"},
  "encoding":{"x":{"field":"t","type":"quantitative","scale":{"domain":[0,500],"nice":false},"axis":null}},
  "layer":[
   {"mark":{"type":"line","interpolate":"monotone","strokeWidth":1.5},"encoding":{"y":{"field":"k","type":"quantitative","scale":{"domain":[-0.007736,0.007736],"nice":false,"zero":false},"axis":{"values":[-0.007736,0,0.007736],"tickCount":3,"format":".6f","title":"[cm/s]"}},"color":{"datum":"Cartesian","scale":{"domain":["quasi-Cartesian","Cartesian"],"range":["#ff1f1f","#12e812"]},"legend":{"title":null}}}},
   {"mark":{"type":"line","interpolate":"monotone","strokeWidth":1.5},"encoding":{"y":{"field":"q","type":"quantitative","scale":{"domain":[-0.007736,0.007736],"nice":false,"zero":false},"axis":{"values":[-0.007736,0,0.007736],"tickCount":3,"format":".6f","title":"[cm/s]"}},"color":{"datum":"quasi-Cartesian","scale":{"domain":["quasi-Cartesian","Cartesian"],"range":["#ff1f1f","#12e812"]},"legend":{"title":null}}}},
   {"data":{"values":[{"lab":"R","t":0,"q":0.007736}]},"mark":{"type":"text","align":"left","baseline":"top","dx":5,"dy":0,"fontSize":16},"encoding":{"y":{"field":"q","type":"quantitative"},"text":{"field":"lab"}}},
   {"data":{"values":[{"lab":"ABU","t":0,"q":0.007736}]},"mark":{"type":"text","align":"left","baseline":"top","dx":-144,"dy":8,"fontSize":14},"encoding":{"y":{"field":"q","type":"quantitative"},"text":{"field":"lab"}}}
  ]},
 {"width":482,"height":72,"data":{"name":"abuT"},
  "encoding":{"x":{"field":"t","type":"quantitative","scale":{"domain":[0,500],"nice":false},"axis":null}},
  "layer":[
   {"mark":{"type":"line","interpolate":"monotone","strokeWidth":1.5},"encoding":{"y":{"field":"k","type":"quantitative","scale":{"domain":[-0.010784,0.010784],"nice":false,"zero":false},"axis":{"values":[-0.010784,0,0.010784],"tickCount":3,"format":".6f","title":"[cm/s]"}},"color":{"datum":"Cartesian","scale":{"domain":["quasi-Cartesian","Cartesian"],"range":["#ff1f1f","#12e812"]},"legend":{"title":null}}}},
   {"mark":{"type":"line","interpolate":"monotone","strokeWidth":1.5},"encoding":{"y":{"field":"q","type":"quantitative","scale":{"domain":[-0.010784,0.010784],"nice":false,"zero":false},"axis":{"values":[-0.010784,0,0.010784],"tickCount":3,"format":".6f","title":"[cm/s]"}},"color":{"datum":"quasi-Cartesian","scale":{"domain":["quasi-Cartesian","Cartesian"],"range":["#ff1f1f","#12e812"]},"legend":{"title":null}}}},
   {"data":{"values":[{"lab":"T","t":0,"q":0.010784}]},"mark":{"type":"text","align":"left","baseline":"top","dx":5,"dy":0,"fontSize":16},"encoding":{"y":{"field":"q","type":"quantitative"},"text":{"field":"lab"}}}
  ]},
 {"width":482,"height":72,"data":{"name":"abuZ"},
  "encoding":{"x":{"field":"t","type":"quantitative","scale":{"domain":[0,500],"nice":false},"axis":{"values":[0,10,20,30,40,50,60,70,80,90,100,110,120,130,140,150,160,170,180,190,200,210,220,230,240,250,260,270,280,290,300,310,320,330,340,350,360,370,380,390,400,410,420,430,440,450,460,470,480,490,500],"tickCount":60,"format":"d","labelExpr":"datum.value % 50 === 0 ? datum.label : ''","tickSize":{"condition":{"test":"datum.value % 50 === 0","value":4},"value":2},"title":"[s]"}}},
  "layer":[
   {"mark":{"type":"line","interpolate":"monotone","strokeWidth":1.5},"encoding":{"y":{"field":"k","type":"quantitative","scale":{"domain":[-0.009011,0.009011],"nice":false,"zero":false},"axis":{"values":[-0.009011,0,0.009011],"tickCount":3,"format":".6f","title":"[cm/s]"}},"color":{"datum":"Cartesian","scale":{"domain":["quasi-Cartesian","Cartesian"],"range":["#ff1f1f","#12e812"]},"legend":{"title":null}}}},
   {"mark":{"type":"line","interpolate":"monotone","strokeWidth":1.5},"encoding":{"y":{"field":"q","type":"quantitative","scale":{"domain":[-0.009011,0.009011],"nice":false,"zero":false},"axis":{"values":[-0.009011,0,0.009011],"tickCount":3,"format":".6f","title":"[cm/s]"}},"color":{"datum":"quasi-Cartesian","scale":{"domain":["quasi-Cartesian","Cartesian"],"range":["#ff1f1f","#12e812"]},"legend":{"title":null}}}},
   {"data":{"values":[{"lab":"Z","t":0,"q":0.009011}]},"mark":{"type":"text","align":"left","baseline":"top","dx":5,"dy":1,"fontSize":16},"encoding":{"y":{"field":"q","type":"quantitative"},"text":{"field":"lab"}}}
  ]}
]},
{"spacing":12,"vconcat":[
 {"width":482,"height":72,"data":{"name":"tskR"},
  "encoding":{"x":{"field":"t","type":"quantitative","scale":{"domain":[0,500],"nice":false},"axis":null}},
  "layer":[
   {"mark":{"type":"line","interpolate":"monotone","strokeWidth":1.5},"encoding":{"y":{"field":"k","type":"quantitative","scale":{"domain":[-0.005142,0.005142],"nice":false,"zero":false},"axis":{"values":[-0.005142,0,0.005142],"tickCount":3,"format":".6f","title":"[cm/s]"}},"color":{"datum":"Cartesian","scale":{"domain":["quasi-Cartesian","Cartesian"],"range":["#ff1f1f","#12e812"]},"legend":{"title":null}}}},
   {"mark":{"type":"line","interpolate":"monotone","strokeWidth":1.5},"encoding":{"y":{"field":"q","type":"quantitative","scale":{"domain":[-0.005142,0.005142],"nice":false,"zero":false},"axis":{"values":[-0.005142,0,0.005142],"tickCount":3,"format":".6f","title":"[cm/s]"}},"color":{"datum":"quasi-Cartesian","scale":{"domain":["quasi-Cartesian","Cartesian"],"range":["#ff1f1f","#12e812"]},"legend":{"title":null}}}},
   {"data":{"values":[{"lab":"R","t":0,"q":0.005142}]},"mark":{"type":"text","align":"left","baseline":"top","dx":5,"dy":0,"fontSize":16},"encoding":{"y":{"field":"q","type":"quantitative"},"text":{"field":"lab"}}},
   {"data":{"values":[{"lab":"TSK","t":0,"q":0.005142}]},"mark":{"type":"text","align":"left","baseline":"top","dx":-139,"dy":15,"fontSize":14},"encoding":{"y":{"field":"q","type":"quantitative"},"text":{"field":"lab"}}}
  ]},
 {"width":482,"height":72,"data":{"name":"tskT"},
  "encoding":{"x":{"field":"t","type":"quantitative","scale":{"domain":[0,500],"nice":false},"axis":null}},
  "layer":[
   {"mark":{"type":"line","interpolate":"monotone","strokeWidth":1.5},"encoding":{"y":{"field":"k","type":"quantitative","scale":{"domain":[-0.004585,0.004585],"nice":false,"zero":false},"axis":{"values":[-0.004585,0,0.004585],"tickCount":3,"format":".6f","title":"[cm/s]"}},"color":{"datum":"Cartesian","scale":{"domain":["quasi-Cartesian","Cartesian"],"range":["#ff1f1f","#12e812"]},"legend":{"title":null}}}},
   {"mark":{"type":"line","interpolate":"monotone","strokeWidth":1.5},"encoding":{"y":{"field":"q","type":"quantitative","scale":{"domain":[-0.004585,0.004585],"nice":false,"zero":false},"axis":{"values":[-0.004585,0,0.004585],"tickCount":3,"format":".6f","title":"[cm/s]"}},"color":{"datum":"quasi-Cartesian","scale":{"domain":["quasi-Cartesian","Cartesian"],"range":["#ff1f1f","#12e812"]},"legend":{"title":null}}}},
   {"data":{"values":[{"lab":"T","t":0,"q":0.004585}]},"mark":{"type":"text","align":"left","baseline":"top","dx":5,"dy":0,"fontSize":16},"encoding":{"y":{"field":"q","type":"quantitative"},"text":{"field":"lab"}}}
  ]},
 {"width":482,"height":72,"data":{"name":"tskZ"},
  "encoding":{"x":{"field":"t","type":"quantitative","scale":{"domain":[0,500],"nice":false},"axis":{"values":[0,10,20,30,40,50,60,70,80,90,100,110,120,130,140,150,160,170,180,190,200,210,220,230,240,250,260,270,280,290,300,310,320,330,340,350,360,370,380,390,400,410,420,430,440,450,460,470,480,490,500],"tickCount":60,"format":"d","labelExpr":"datum.value % 50 === 0 ? datum.label : ''","tickSize":{"condition":{"test":"datum.value % 50 === 0","value":4},"value":2},"title":"[s]"}}},
  "layer":[
   {"mark":{"type":"line","interpolate":"monotone","strokeWidth":1.5},"encoding":{"y":{"field":"k","type":"quantitative","scale":{"domain":[-0.005826,0.005826],"nice":false,"zero":false},"axis":{"values":[-0.005826,0,0.005826],"tickCount":3,"format":".6f","title":"[cm/s]"}},"color":{"datum":"Cartesian","scale":{"domain":["quasi-Cartesian","Cartesian"],"range":["#ff1f1f","#12e812"]},"legend":{"title":null}}}},
   {"mark":{"type":"line","interpolate":"monotone","strokeWidth":1.5},"encoding":{"y":{"field":"q","type":"quantitative","scale":{"domain":[-0.005826,0.005826],"nice":false,"zero":false},"axis":{"values":[-0.005826,0,0.005826],"tickCount":3,"format":".6f","title":"[cm/s]"}},"color":{"datum":"quasi-Cartesian","scale":{"domain":["quasi-Cartesian","Cartesian"],"range":["#ff1f1f","#12e812"]},"legend":{"title":null}}}},
   {"data":{"values":[{"lab":"Z","t":0,"q":0.005826}]},"mark":{"type":"text","align":"left","baseline":"top","dx":5,"dy":1,"fontSize":16},"encoding":{"y":{"field":"q","type":"quantitative"},"text":{"field":"lab"}}}
  ]}
]}
]
}
